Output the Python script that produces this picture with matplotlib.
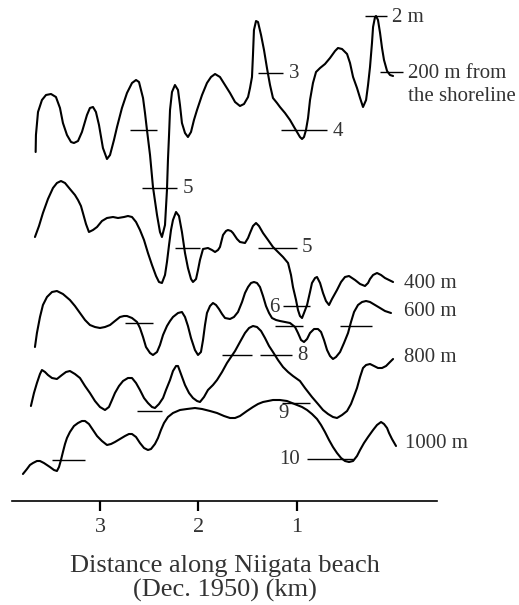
import numpy as np
import matplotlib.pyplot as plt

# distance along the beach (km) and relative profile height (offset units, px scale)
x200 = [3.653, 3.650, 3.629, 3.589, 3.548, 3.497, 3.447, 3.406, 3.376, 3.335, 3.294, 3.264, 3.223, 3.183,
        3.132, 3.102, 3.071, 3.041, 3.010, 2.970, 2.929, 2.898, 2.858, 2.827, 2.777, 2.726, 2.675, 2.634,
        2.604, 2.563, 2.543, 2.523, 2.492, 2.462, 2.421, 2.391, 2.371, 2.340, 2.320, 2.310, 2.299, 2.289,
        2.269, 2.239, 2.208, 2.188, 2.168, 2.137, 2.107, 2.076, 2.046, 2.015, 1.964, 1.914, 1.873, 1.832,
        1.782, 1.731, 1.680, 1.629, 1.579, 1.538, 1.497, 1.477, 1.457, 1.447, 1.437, 1.416, 1.396, 1.365,
        1.335, 1.305, 1.274, 1.244, 1.203, 1.173, 1.122, 1.071, 1.030, 1.000, 0.970, 0.949, 0.929, 0.909,
        0.888, 0.868, 0.838, 0.807, 0.766, 0.716, 0.665, 0.614, 0.584, 0.543, 0.492, 0.462, 0.431, 0.391,
        0.360, 0.330, 0.299, 0.279, 0.259, 0.239, 0.228, 0.208, 0.198, 0.178, 0.157, 0.137, 0.117, 0.086,
        0.056, 0.025]
y200 = [349, 366, 389, 401, 406, 407, 404, 393, 378, 366, 359, 358, 360, 369,
        386, 393, 394, 389, 376, 353, 342, 346, 361, 374, 393, 408, 418, 421,
        419, 403, 388, 371, 346, 314, 286, 269, 264, 276, 311, 341, 366, 391,
        409, 416, 411, 396, 378, 368, 364, 369, 381, 391, 406, 418, 424, 427,
        424, 416, 408, 399, 395, 397, 404, 413, 424, 446, 471, 480, 479, 466,
        451, 433, 416, 403, 398, 394, 388, 381, 374, 369, 364, 362, 364, 371,
        383, 401, 418, 429, 433, 437, 443, 450, 453, 452, 447, 438, 424, 413,
        403, 394, 401, 416, 434, 458, 474, 484, 485, 481, 468, 453, 441, 430,
        426, 425]

x400 = [3.660, 3.619, 3.579, 3.528, 3.477, 3.437, 3.396, 3.355, 3.305, 3.254, 3.223, 3.193, 3.173, 3.142,
        3.112, 3.071, 3.030, 2.980, 2.929, 2.868, 2.817, 2.756, 2.716, 2.675, 2.634, 2.594, 2.553, 2.513,
        2.472, 2.431, 2.401, 2.371, 2.340, 2.320, 2.299, 2.279, 2.259, 2.228, 2.198, 2.168, 2.137, 2.107,
        2.076, 2.056, 2.025, 2.005, 1.985, 1.954, 1.904, 1.863, 1.832, 1.802, 1.782, 1.751, 1.721, 1.701,
        1.670, 1.650, 1.609, 1.579, 1.528, 1.497, 1.477, 1.447, 1.416, 1.386, 1.345, 1.294, 1.244, 1.193,
        1.142, 1.091, 1.061, 1.041, 1.010, 0.990, 0.970, 0.949, 0.929, 0.898, 0.868, 0.848, 0.817, 0.797,
        0.766, 0.736, 0.706, 0.675, 0.645, 0.594, 0.553, 0.513, 0.472, 0.411, 0.360, 0.310, 0.279, 0.259,
        0.228, 0.188, 0.147, 0.107, 0.066, 0.025]
y400 = [264, 275, 288, 302, 313, 318, 320, 318, 312, 306, 301, 295, 288, 277,
        269, 271, 274, 280, 283, 284, 283, 284, 285, 284, 279, 271, 261, 248,
        236, 225, 219, 218, 226, 239, 256, 271, 281, 289, 285, 269, 248, 233,
        222, 219, 222, 231, 241, 252, 253, 251, 249, 251, 254, 266, 270, 271,
        270, 268, 262, 259, 258, 263, 268, 275, 278, 275, 268, 261, 254, 249,
        244, 238, 226, 214, 201, 191, 185, 183, 188, 196, 209, 218, 223, 224,
        218, 208, 200, 196, 202, 211, 219, 224, 225, 221, 217, 215, 218, 222,
        226, 228, 226, 223, 221, 219]

x600 = [3.660, 3.640, 3.609, 3.579, 3.538, 3.487, 3.437, 3.376, 3.305, 3.254, 3.203, 3.152, 3.102, 3.051,
        3.000, 2.949, 2.898, 2.848, 2.797, 2.756, 2.726, 2.675, 2.624, 2.594, 2.563, 2.533, 2.492, 2.462,
        2.421, 2.391, 2.360, 2.320, 2.289, 2.259, 2.208, 2.168, 2.137, 2.107, 2.076, 2.036, 2.005, 1.975,
        1.954, 1.934, 1.914, 1.883, 1.853, 1.822, 1.792, 1.761, 1.731, 1.680, 1.640, 1.599, 1.558, 1.528,
        1.497, 1.467, 1.437, 1.406, 1.376, 1.345, 1.315, 1.284, 1.254, 1.213, 1.173, 1.122, 1.071, 1.020,
        0.990, 0.959, 0.929, 0.898, 0.868, 0.827, 0.787, 0.756, 0.726, 0.695, 0.665, 0.635, 0.604, 0.563,
        0.523, 0.482, 0.452, 0.421, 0.381, 0.340, 0.299, 0.259, 0.208, 0.157, 0.107, 0.046]
y600 = [154, 168, 184, 196, 204, 209, 210, 207, 201, 195, 188, 181, 176, 174,
        173, 174, 176, 180, 184, 185, 185, 183, 179, 173, 164, 154, 148, 146,
        149, 156, 166, 175, 180, 184, 188, 189, 184, 175, 163, 151, 146, 149,
        161, 176, 188, 195, 198, 196, 192, 187, 183, 182, 184, 189, 199, 208,
        214, 218, 219, 218, 214, 205, 195, 188, 183, 181, 180, 179, 178, 174,
        168, 161, 159, 162, 168, 172, 172, 169, 161, 151, 145, 142, 144, 149,
        158, 168, 179, 189, 196, 199, 200, 199, 196, 193, 190, 188]

x800 = [3.701, 3.670, 3.640, 3.609, 3.589, 3.558, 3.528, 3.487, 3.437, 3.386, 3.345, 3.305, 3.254, 3.203,
        3.152, 3.102, 3.051, 3.000, 2.949, 2.909, 2.878, 2.848, 2.807, 2.766, 2.716, 2.675, 2.634, 2.594,
        2.553, 2.513, 2.472, 2.442, 2.401, 2.360, 2.330, 2.289, 2.259, 2.228, 2.208, 2.178, 2.137, 2.096,
        2.056, 2.015, 1.985, 1.944, 1.904, 1.853, 1.812, 1.761, 1.711, 1.670, 1.629, 1.579, 1.528, 1.487,
        1.447, 1.406, 1.365, 1.325, 1.284, 1.244, 1.193, 1.142, 1.091, 1.041, 0.970, 0.919, 0.848, 0.787,
        0.736, 0.685, 0.635, 0.594, 0.543, 0.492, 0.452, 0.421, 0.391, 0.360, 0.330, 0.299, 0.259, 0.218,
        0.178, 0.137, 0.096, 0.056, 0.025]
y800 = [95, 108, 118, 127, 131, 129, 126, 123, 122, 126, 129, 130, 127, 123,
        115, 108, 100, 94, 91, 94, 101, 108, 115, 120, 123, 123, 118, 111,
        103, 98, 94, 93, 97, 103, 111, 121, 130, 135, 135, 127, 116, 108,
        103, 100, 99, 104, 111, 116, 121, 129, 138, 144, 150, 159, 168, 173,
        175, 174, 170, 163, 155, 149, 141, 134, 129, 125, 120, 113, 104, 97,
        91, 87, 84, 83, 86, 90, 97, 105, 113, 124, 133, 136, 137, 135,
        133, 133, 135, 139, 142]

x1000 = [3.782, 3.741, 3.711, 3.680, 3.640, 3.609, 3.569, 3.508, 3.467, 3.437, 3.416, 3.396, 3.376, 3.355,
         3.335, 3.305, 3.264, 3.223, 3.183, 3.152, 3.112, 3.071, 3.030, 2.980, 2.929, 2.888, 2.848, 2.797,
         2.746, 2.706, 2.675, 2.634, 2.594, 2.553, 2.513, 2.482, 2.442, 2.411, 2.381, 2.350, 2.310, 2.259,
         2.188, 2.117, 2.036, 1.964, 1.883, 1.812, 1.741, 1.680, 1.629, 1.579, 1.508, 1.447, 1.396, 1.345,
         1.294, 1.244, 1.173, 1.102, 1.051, 1.000, 0.949, 0.898, 0.848, 0.797, 0.756, 0.716, 0.675, 0.635,
         0.594, 0.553, 0.513, 0.472, 0.431, 0.391, 0.360, 0.320, 0.279, 0.228, 0.188, 0.147, 0.117, 0.086,
         0.066, 0.036, -0.005]
y1000 = [27, 32, 36, 38, 40, 40, 38, 34, 31, 30, 34, 41, 49, 57,
         63, 69, 75, 78, 80, 80, 77, 71, 65, 60, 56, 57, 59, 62,
         65, 67, 67, 64, 58, 53, 51, 52, 57, 63, 71, 78, 84, 88,
         91, 92, 93, 92, 90, 88, 85, 83, 83, 85, 90, 94, 97, 99,
         100, 101, 101, 100, 98, 96, 94, 91, 87, 82, 76, 69, 61, 54,
         48, 43, 40, 39, 40, 45, 51, 58, 64, 71, 76, 79, 77, 73,
         68, 62, 55]

profile_x = [x200, x400, x600, x800, x1000]
profile_y = [y200, y400, y600, y800, y1000]
profile_names = ['200 m from\nthe shoreline', '400 m', '600 m', '800 m', '1000 m']
name_x = [-0.127, -0.086, -0.086, -0.086, -0.096]
name_y = [437, 218, 189, 143, 58]

# short level marks: start km, end km, height
mark_x0 = [0.310, 0.157, 1.396, 1.162, 2.695, 2.574, 2.239, 1.396, 1.142, 2.746, 1.223, 0.563, 1.761,
           1.376, 2.624, 1.152, 3.487, 0.898]
mark_x1 = [0.086, -0.076, 1.142, 0.695, 2.421, 2.218, 1.985, 1.000, 0.868, 2.462, 0.939, 0.239, 1.457,
           1.051, 2.371, 0.868, 3.152, 0.431]
mark_y = [485, 429, 428, 371, 371, 313, 253, 253, 195, 178, 175, 175, 146, 146, 90, 98, 41, 42]

# numbered labels: text, km, height, alignment
num_text = ['2 m', '3', '4', '5', '5', '6', '8', '9', '10']
num_x = [0.036, 1.081, 0.635, 2.157, 0.949, 1.173, 1.000, 1.132, 0.970]
num_y = [483, 427, 370, 313, 253, 194, 145, 87, 41]
num_ha = ['left', 'left', 'left', 'left', 'left', 'right', 'left', 'center', 'right']

ticks = [3, 2, 1]

plt.rcParams['font.family'] = ['Liberation Serif', 'DejaVu Serif']
txtc = '#333333'

fig = plt.figure(figsize=(5.19, 6.05), dpi=100, facecolor='white')
ax = fig.add_axes([12 / 519, 104 / 605, 425 / 519, 501 / 605])
ax.set_xlim(3.893, -0.421)
ax.set_ylim(0, 501)

for xs, ys in zip(profile_x, profile_y):
    ax.plot(xs, ys, color='black', lw=1.5, solid_joinstyle='round', solid_capstyle='round')

ax.hlines(mark_y, mark_x0, mark_x1, color='black', lw=1.0)

for t, xx, yy, ha in zip(num_text, num_x, num_y, num_ha):
    ax.text(xx, yy, t, fontsize=15, color=txtc, ha=ha, va='center')

for t, xx, yy in zip(profile_names, name_x, name_y):
    ax.text(xx, yy, t, fontsize=15, color=txtc, ha='left', va='top' if '\n' in t else 'center',
            linespacing=1.3)

# axis styling: only the bottom line with ticks
for s in ['left', 'right', 'top']:
    ax.spines[s].set_visible(False)
ax.spines['bottom'].set_linewidth(1.2)
ax.set_yticks([])
ax.set_xticks(ticks)
ax.set_xticklabels([str(t) for t in ticks])
ax.tick_params(axis='x', direction='out', length=7, width=1.6, pad=5, labelsize=16, labelcolor=txtc)
ax.set_xlabel('Distance along Niigata beach\n(Dec. 1950) (km)', fontsize=19, color=txtc,
              labelpad=13, linespacing=1.1)

plt.savefig('out.png', dpi=100, facecolor='white')
plt.close()
